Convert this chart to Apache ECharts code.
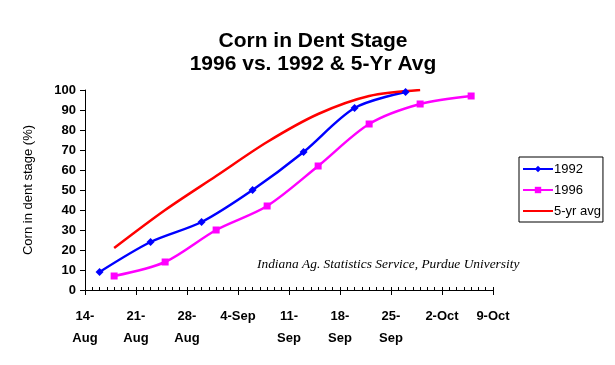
<!DOCTYPE html>
<html>
<head>
<meta charset="utf-8">
<script src="https://cdn.jsdelivr.net/npm/echarts@6/dist/echarts.min.js"></script>
<style>html,body{margin:0;padding:0;background:#fff}#c{width:615px;height:365px}</style>
</head>
<body>
<div id="c"></div>
<script>
const xTickLabels = ['14-\nAug','21-\nAug','28-\nAug','4-Sep','11-\nSep','18-\nSep','25-\nSep','2-Oct','9-Oct'];
const dates1992 = ['16-Aug','23-Aug','30-Aug','6-Sep','13-Sep','20-Sep','27-Sep'];
const values1992 = [9, 24, 34, 50, 69, 91, 99];
const dates1996 = ['18-Aug','25-Aug','1-Sep','8-Sep','15-Sep','22-Sep','29-Sep','6-Oct'];
const values1996 = [7, 14, 30, 42, 62, 83, 93, 97];
const datesAvg = ['18-Aug','25-Aug','1-Sep','8-Sep','15-Sep','22-Sep','29-Sep'];
const valuesAvg = [21, 40, 57, 74, 88, 97, 100];

const MONTHS = {Aug: 7, Sep: 8, Oct: 9};
const BASE = Date.UTC(1996, 7, 14);
function dayIndex(s) {
  const [d, m] = s.split('-');
  return (Date.UTC(1996, MONTHS[m], +d) - BASE) / 86400000;
}
function pairs(ds, vs) { return ds.map((d, i) => [dayIndex(d), vs[i]]); }

const chart = echarts.init(document.getElementById('c'));
const F = 'Liberation Sans, Arial, sans-serif';
chart.setOption({
  animation: false,
  title: {
    text: 'Corn in Dent Stage\n1996 vs. 1992 & 5-Yr Avg',
    left: 308, textAlign: 'center', top: 24,
    textStyle: {fontFamily: F, fontSize: 21, fontWeight: 'bold', color: '#000', lineHeight: 23.5}
  },
  legend: {
    orient: 'vertical', left: 519, top: 157,
    padding: [5, 2, 4, 3], itemGap: 7,
    borderColor: '#000', borderWidth: 1, borderRadius: 0,
    itemWidth: 30, itemHeight: 8,
    textStyle: {fontFamily: F, fontSize: 13, lineHeight: 14, color: '#000', padding: [0, 0, 0, -4]},
    data: ['1992', '1996', {name: '5-yr avg', itemStyle: {opacity: 0}}]
  },
  grid: {left: 85, right: 122, top: 90, bottom: 75},
  xAxis: [{
    type: 'value', min: 0, max: 56, interval: 7,
    axisLine: {lineStyle: {color: '#000', width: 1}},
    axisTick: {show: true, length: 5, lineStyle: {color: '#000'}},
    splitLine: {show: false},
    axisLabel: {
      color: '#000', fontFamily: F, fontSize: 13, fontWeight: 'bold', lineHeight: 22, margin: 15,
      formatter: v => xTickLabels[Math.round(v / 7)] || ''
    }
  }, {
    type: 'value', min: 0, max: 56, interval: 1, position: 'bottom',
    axisLine: {show: false},
    axisTick: {show: true, inside: true, length: 3, lineStyle: {color: '#000'}},
    axisLabel: {show: false}, splitLine: {show: false}
  }],
  yAxis: {
    type: 'value', min: 0, max: 100, interval: 10,
    name: 'Corn in dent stage (%)', nameLocation: 'middle', nameGap: 50,
    nameTextStyle: {fontFamily: F, fontSize: 13, color: '#000'},
    axisLine: {show: true, lineStyle: {color: '#000'}},
    axisTick: {show: true, length: 5, lineStyle: {color: '#000'}},
    splitLine: {show: false},
    axisLabel: {color: '#000', fontFamily: F, fontSize: 13, fontWeight: 'bold', margin: 9}
  },
  series: [{
    name: '1992', type: 'line', smooth: 0.3,
    data: pairs(dates1992, values1992),
    symbol: 'diamond', symbolSize: 8,
    itemStyle: {color: '#0000ff'}, lineStyle: {color: '#0000ff', width: 2.5}
  }, {
    name: '1996', type: 'line', smooth: 0.3,
    data: pairs(dates1996, values1996),
    symbol: 'rect', symbolSize: 7,
    itemStyle: {color: '#ff00ff'}, lineStyle: {color: '#ff00ff', width: 2.5}
  }, {
    name: '5-yr avg', type: 'line', smooth: 0.3,
    data: pairs(datesAvg, valuesAvg),
    symbol: 'none',
    itemStyle: {color: '#ff0000'}, lineStyle: {color: '#ff0000', width: 2.5}
  }],
  graphic: [{
    type: 'text', left: 257, top: 258,
    style: {
      text: 'Indiana Ag. Statistics Service, Purdue University',
      font: 'italic 13.4px "Liberation Serif", "Times New Roman", serif', fill: '#000'
    }
  }]
});
</script>
</body>
</html>
